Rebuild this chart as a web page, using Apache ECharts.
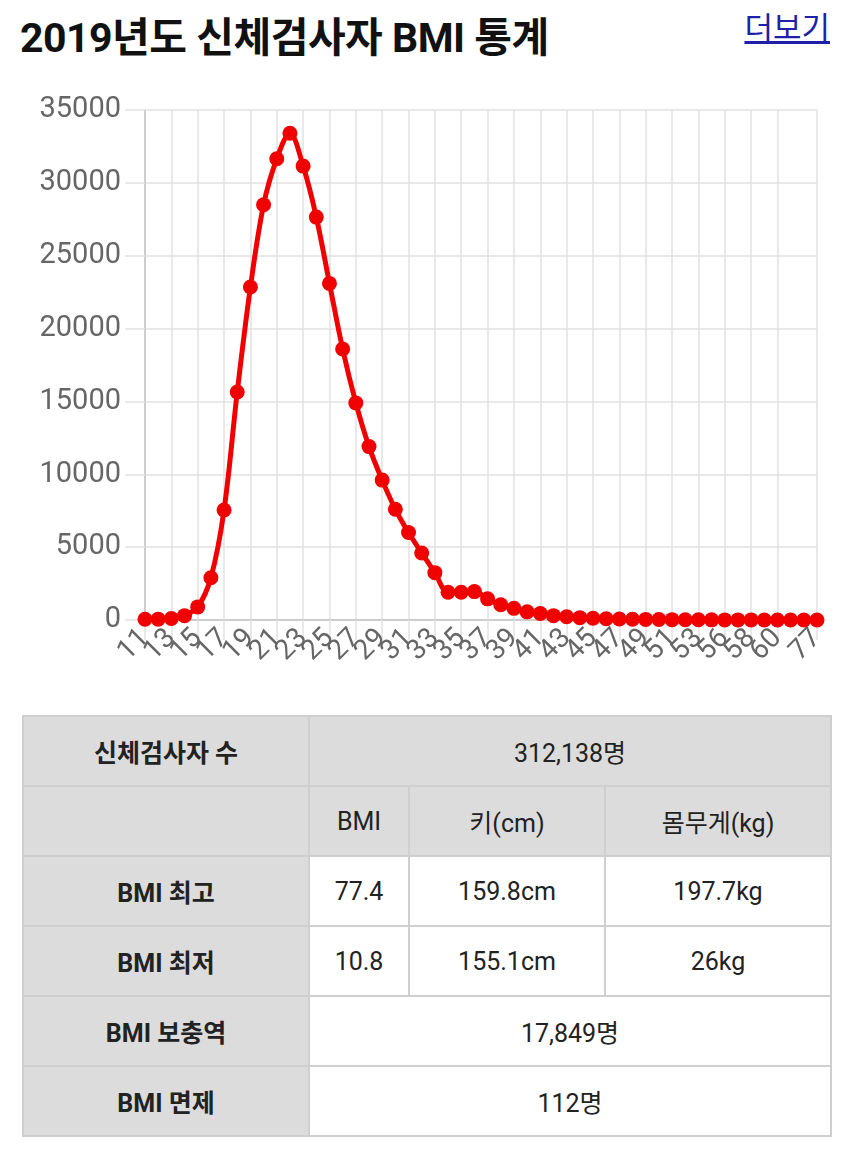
<!DOCTYPE html>
<html>
<head>
<meta charset="utf-8">
<script src="https://cdn.jsdelivr.net/npm/echarts@6/dist/echarts.min.js"></script>
<style>
    body { margin: 0; background: #fff; font-family: Roboto, "Noto Sans CJK KR", sans-serif; }
    .page { position: relative; width: 850px; height: 1151px; overflow: hidden; }
    .title { position: absolute; left: 20px; top: 4px; margin: 0; font-size: 41px; font-weight: bold; color: #111; letter-spacing: -0.5px; }
    .more { position: absolute; right: 20px; top: 3px; font-size: 31px; color: #1f1fa8; text-decoration: underline; }
    #bmi { position: absolute; left: 0; top: 0; width: 850px; height: 700px; }
    table { position: absolute; left: 22px; top: 715px; width: 808px; border-collapse: collapse; table-layout: fixed; }
    td { height: 68px; border: 2px solid #cfcfcf; text-align: center; font-size: 25px; color: #222; padding: 0; }
    td.h { background: #dcdcdc; font-weight: bold; }
    td.g { background: #dcdcdc; }
</style>
</head>
<body>
<div class="page">
    <h1 class="title">2019년도 신체검사자 BMI 통계</h1>
    <span class="more">더보기</span>
    <div id="bmi"></div>
    <table id="stats">
        <colgroup><col style="width:286px"><col style="width:100px"><col style="width:196px"><col style="width:226px"></colgroup>
    </table>
</div>
<script>
    // BMI 구간 (정수)
    const categories = ['11','12','13','14','15','16','17','18','19','20',
        '21','22','23','24','25','26','27','28','29','30',
        '31','32','33','34','35','36','37','38','39','40',
        '41','42','43','44','45','46','47','48','49','50',
        '51','52','53','55','56','57','58','59','60','62','65','77'];
    // 인원 수
    const counts = [50, 60, 100, 300, 900, 2900, 7550, 15650, 22850, 28500,
        31650, 33400, 31150, 27650, 23100, 18600, 14900, 11900, 9600, 7600,
        6000, 4600, 3250, 1900, 1900, 1950, 1450, 1050, 800, 560,
        450, 300, 220, 160, 120, 90, 70, 55, 40, 30,
        25, 20, 15, 10, 8, 6, 5, 4, 3, 2, 2, 1];
    const yTicks = [0, 5000, 10000, 15000, 20000, 25000, 30000, 35000];

    // 표 데이터
    const totalRow = ['신체검사자 수', '312,138명'];
    const headRow = ['', 'BMI', '키(cm)', '몸무게(kg)'];
    const maxRow = ['BMI 최고', '77.4', '159.8cm', '197.7kg'];
    const minRow = ['BMI 최저', '10.8', '155.1cm', '26kg'];
    const reserveRow = ['BMI 보충역', '17,849명'];
    const exemptRow = ['BMI 면제', '112명'];

    function buildTable() {
        const t = document.getElementById('stats');
        const add = (cells, grayAll) => {
            const tr = document.createElement('tr');
            cells.forEach((c, i) => {
                const td = document.createElement('td');
                td.textContent = c;
                if (i === 0) td.className = 'h';
                else if (grayAll) td.className = 'g';
                if (cells.length === 2 && i === 1) td.colSpan = 3;
                tr.appendChild(td);
            });
            t.appendChild(tr);
        };
        add(totalRow, true);
        add(headRow, true);
        add(maxRow, false);
        add(minRow, false);
        add(reserveRow, false);
        add(exemptRow, false);
    }
    buildTable();

    // 라벨/격자 표시할 인덱스 (2칸마다 + 마지막)
    const last = categories.length - 1;
    const showTick = (idx) => (idx % 2 === 0 && idx <= 48) || idx === last;

    const chart = echarts.init(document.getElementById('bmi'));
    chart.setOption({
        animation: false,
        grid: { left: 145, top: 110, width: 672, height: 510 },
        xAxis: {
            type: 'category',
            boundaryGap: false,
            data: categories,
            axisLine: { lineStyle: { color: '#c4c4c4', width: 1.5 } },
            axisTick: { show: true, interval: showTick, length: 20, lineStyle: { color: '#e2e2e2', width: 1.5 } },
            splitLine: { show: true, interval: showTick, lineStyle: { color: '#e2e2e2', width: 1.5 } },
            axisLabel: {
                interval: 0, rotate: 45, margin: 14, hideOverlap: false,
                formatter: (v, idx) => showTick(idx) ? v : '',
                fontSize: 28, color: '#666', fontFamily: 'Roboto'
            }
        },
        yAxis: {
            type: 'value',
            min: yTicks[0],
            max: yTicks[yTicks.length - 1],
            interval: 5000,
            axisLine: { show: true, lineStyle: { color: '#c4c4c4', width: 1.5 } },
            axisTick: { show: true, length: 20, lineStyle: { color: '#e2e2e2', width: 1.5 } },
            splitLine: { lineStyle: { color: '#e2e2e2', width: 1.5 } },
            axisLabel: {
                fontSize: 29, color: '#666', margin: 24, fontFamily: 'Roboto',
                formatter: (v) => String(v)
            }
        },
        series: [{
            type: 'line',
            data: counts,
            smooth: 0.35,
            symbol: 'circle',
            symbolSize: 15,
            showAllSymbol: true,
            itemStyle: { color: '#f00000' },
            lineStyle: { color: '#f00000', width: 5 }
        }]
    });
</script>
</body>
</html>
